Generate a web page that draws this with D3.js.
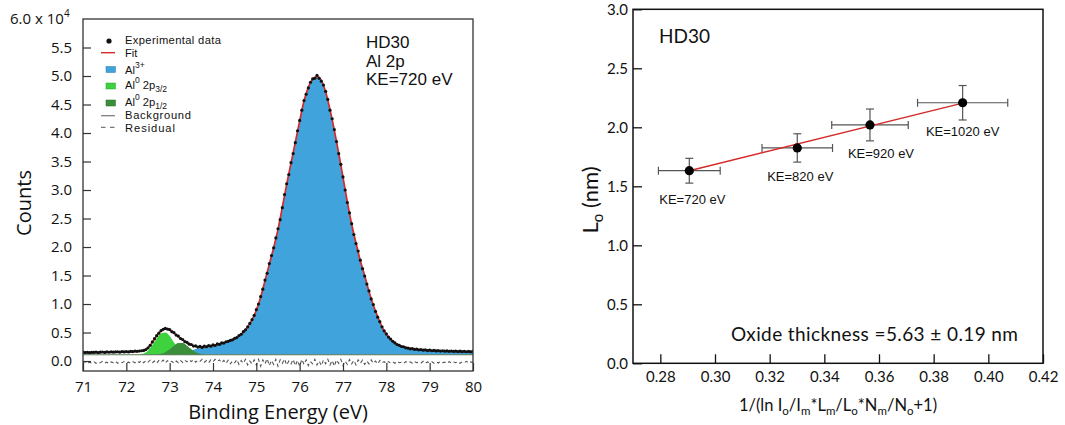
<!DOCTYPE html>
<html><head><meta charset="utf-8">
<script src="https://cdn.jsdelivr.net/npm/d3@7"></script>
<style>body{margin:0;background:#fff}svg{display:block}</style>
</head><body>
<svg id="c" width="1065" height="425"></svg>
<script>
// ---------------- LEFT PANEL DATA (counts in units of 1e4) ----------------
const dataStartE = 71.0, dataStepE = 0.05;
const expData = [
0.155,0.148,0.152,0.146,0.153,0.150,0.157,0.149,0.155,0.158,0.151,0.160,0.154,0.162,0.155,0.160,0.163,0.156,0.165,0.159,
0.166,0.160,0.169,0.165,0.174,0.170,0.176,0.180,0.186,0.200,0.232,0.275,0.335,0.392,0.445,0.488,0.532,0.556,0.572,0.560,
0.552,0.515,0.498,0.455,0.438,0.395,0.378,0.340,0.328,0.295,0.290,0.262,0.266,0.245,0.256,0.238,0.262,0.250,0.272,0.260,
0.285,0.272,0.300,0.292,0.318,0.315,0.338,0.345,0.362,0.372,0.398,0.412,0.448,0.470,0.515,0.548,0.598,0.660,0.725,0.800,
0.900,1.000,1.130,1.260,1.420,1.540,1.710,1.850,1.985,2.160,2.320,2.480,2.690,2.920,3.110,3.270,3.480,3.640,3.830,4.040,
4.220,4.400,4.570,4.680,4.790,4.890,4.950,4.960,5.010,4.960,4.910,4.840,4.730,4.590,4.400,4.250,4.060,3.850,3.640,3.450,
3.230,3.000,2.780,2.600,2.410,2.220,2.060,1.930,1.770,1.620,1.490,1.350,1.230,1.090,0.990,0.870,0.770,0.690,0.600,0.530,
0.475,0.420,0.385,0.345,0.318,0.290,0.275,0.255,0.250,0.232,0.228,0.214,0.218,0.204,0.208,0.196,0.200,0.190,0.196,0.184,
0.192,0.180,0.186,0.177,0.184,0.174,0.180,0.172,0.178,0.170,0.176,0.168,0.174,0.166,0.172,0.165,0.170,0.163,0.169,0.162,
0.168];

const fitStartE = 71.0, fitStepE = 0.1;
const fitCurve = [
0.150,0.150,0.151,0.152,0.153,0.154,0.155,0.156,0.158,0.160,
0.162,0.165,0.168,0.172,0.180,0.225,0.330,0.440,0.530,0.565,
0.545,0.490,0.430,0.370,0.320,0.280,0.255,0.245,0.248,0.258,
0.270,0.288,0.308,0.330,0.355,0.390,0.440,0.505,0.595,0.720,
0.890,1.120,1.410,1.700,1.990,2.310,2.700,3.100,3.470,3.840,
4.210,4.560,4.800,4.945,4.990,4.920,4.720,4.410,4.050,3.650,
3.220,2.790,2.400,2.070,1.760,1.500,1.220,0.980,0.780,0.600,
0.470,0.380,0.315,0.272,0.244,0.225,0.212,0.202,0.195,0.190,
0.186,0.182,0.179,0.176,0.174,0.172,0.170,0.168,0.167,0.166,
0.165];

const residualStartE = 71.0, residualStepE = 0.05;
const residual = [
-0.03,-0.01,-0.045,-0.02,-0.035,-0.01,-0.04,-0.02,-0.03,-0.005,-0.035,-0.02,-0.045,-0.015,-0.03,-0.005,-0.04,-0.015,-0.03,-0.01,
-0.035,-0.02,-0.04,-0.01,-0.03,0.0,-0.025,0.01,-0.03,0.005,-0.02,0.015,-0.03,0.0,-0.04,0.01,-0.02,0.015,-0.035,0.005,
-0.025,-0.005,-0.04,0.0,-0.03,0.01,-0.025,0.015,-0.015,0.02,-0.01,0.025,-0.02,0.015,-0.005,0.03,-0.02,0.01,-0.03,0.02,
-0.01,0.03,-0.005,0.02,-0.03,0.01,-0.04,0.015,-0.05,0.0,-0.03,0.025,-0.06,0.01,-0.04,0.03,-0.07,0.0,-0.05,0.02,
-0.07,0.03,-0.09,0.02,-0.05,0.04,-0.08,0.01,-0.06,0.03,-0.09,0.02,-0.04,0.035,-0.07,0.0,-0.05,0.03,-0.08,0.01,
-0.09,0.03,-0.06,0.02,-0.08,-0.01,-0.05,0.03,-0.07,0.0,-0.08,0.02,-0.05,0.03,-0.07,0.01,-0.09,0.02,-0.04,0.03,
-0.08,0.0,-0.06,0.025,-0.05,0.01,-0.07,0.02,-0.04,0.015,-0.06,0.0,-0.05,0.02,-0.04,0.0,-0.05,0.01,-0.03,-0.01,
-0.045,-0.01,-0.035,-0.015,-0.04,-0.005,-0.03,-0.02,-0.04,-0.01,-0.035,-0.015,-0.04,-0.01,-0.03,-0.02,-0.035,-0.005,-0.04,-0.015,
-0.03,-0.01,-0.04,-0.015,-0.035,-0.005,-0.03,-0.02,-0.04,-0.01,-0.035,-0.015,-0.03,-0.01,-0.04,-0.015,-0.03,-0.005,-0.035,-0.015,
-0.025];

const backgroundE = [71, 80];
const backgroundV = [0.11, 0.11];

const al3StartE = 72.4;
const al3Comp = [
0.000,0.003,0.005,0.007,0.008,0.010,
0.012,0.015,0.020,0.030,0.045,0.070,0.100,0.120,0.135,0.147,
0.160,0.178,0.198,0.220,0.245,0.280,0.330,0.395,0.485,0.610,
0.780,1.010,1.300,1.590,1.880,2.200,2.590,2.990,3.360,3.730,
4.100,4.450,4.690,4.835,4.880,4.810,4.610,4.300,3.940,3.540,
3.110,2.680,2.290,1.960,1.650,1.390,1.110,0.870,0.670,0.490,
0.360,0.270,0.205,0.162,0.134,0.115,0.102,0.092,0.085,0.080,
0.076,0.072,0.069,0.066,0.064,0.062,0.060,0.058,0.057,0.056,
0.055];
const p32StartE = 72.2;
const p32Comp = [0,0.006,0.022,0.070,0.170,0.285,0.375,0.390,0.330,0.215,0.110,0.045,0.014,0.003,0];
const p12StartE = 72.6;
const p12Comp = [0,0.005,0.017,0.045,0.097,0.160,0.205,0.205,0.160,0.097,0.045,0.017,0.005,0];

const xTicksL = [71,72,73,74,75,76,77,78,79,80];
const yTicksL = [0,0.5,1,1.5,2,2.5,3,3.5,4,4.5,5,5.5];
const annotL = ["HD30","Al 2p","KE=720 eV"];

// ---------------- RIGHT PANEL DATA ----------------
const invX = [0.2906, 0.3301, 0.3567, 0.3906];
const Lo   = [1.632, 1.825, 2.020, 2.208];
const xErr = [0.0113, 0.0129, 0.0140, 0.0165];
const yErr = [0.105, 0.120, 0.135, 0.146];
const keLabels = ["KE=720 eV","KE=820 eV","KE=920 eV","KE=1020 eV"];
const fitLineX = [0.2906, 0.3906];
const fitLineY = [1.632, 2.205];
const xTicksR = [0.28,0.30,0.32,0.34,0.36,0.38,0.40,0.42];
const yTicksR = [0,0.5,1,1.5,2,2.5,3];

// ---------------- STYLE ----------------
const C_BLUE = "#41a3db", C_LG = "#3fd23f", C_DG = "#3b8f3b", C_RED = "#d42a2a";
const FONT_AX = "'Open Sans', sans-serif";
const FONT_AR = "'Liberation Sans', Arial, sans-serif";
const FONT_R = "Lato, sans-serif";

const svg = d3.select("#c");

// ======== LEFT PANEL ========
const xL = d3.scaleLinear().domain([71,80]).range([83,473]);
const yL = d3.scaleLinear().domain([-0.175,6]).range([371,19]);
const gL = svg.append("g");
svg.append("defs").append("clipPath").attr("id","clipL")
  .append("rect").attr("x",xL(71)).attr("y",yL(6)).attr("width",xL(80)-xL(71)).attr("height",yL(-0.175)-yL(6));
const plotL = gL.append("g").attr("clip-path","url(#clipL)");
const bg0 = backgroundV[0];

function compArea(arr, startE){
  return d3.area().curve(d3.curveMonotoneX)
    .x((d,i)=>xL(startE + i*fitStepE))
    .y0(yL(bg0)).y1(d=>yL(bg0 + d))(arr);
}
plotL.append("path").attr("d",compArea(al3Comp,al3StartE)).attr("fill",C_BLUE);
plotL.append("path").attr("d",compArea(p32Comp,p32StartE)).attr("fill",C_LG);
plotL.append("path").attr("d",compArea(p12Comp,p12StartE)).attr("fill",C_DG);
plotL.append("path").attr("d",d3.line().x((d,i)=>xL(backgroundE[i])).y(d=>yL(d))(backgroundV))
  .attr("fill","none").attr("stroke","#5a7a5a").attr("stroke-width",1);
plotL.append("path").attr("d",d3.line().x((d,i)=>xL(residualStartE+i*residualStepE)).y(d=>yL(d))(residual))
  .attr("fill","none").attr("stroke","#555").attr("stroke-width",1.1).attr("stroke-dasharray","3.5,3");
plotL.append("path").attr("d",d3.line().curve(d3.curveMonotoneX).x((d,i)=>xL(fitStartE+i*fitStepE)).y(d=>yL(d))(fitCurve))
  .attr("fill","none").attr("stroke",C_RED).attr("stroke-width",1.7);
plotL.selectAll("circle.exp").data(expData).enter().append("circle").attr("class","exp")
  .attr("cx",(d,i)=>xL(dataStartE+i*dataStepE)).attr("cy",d=>yL(d)).attr("r",1.6).attr("fill","#111");

// axes
const axL = gL.append("g").attr("transform",`translate(${xL(71)},0)`)
  .call(d3.axisLeft(yL).tickValues(yTicksL).tickSize(-8).tickPadding(11).tickFormat(d3.format(".1f")));
const axB = gL.append("g").attr("transform",`translate(0,${yL(-0.175)})`)
  .call(d3.axisBottom(xL).tickValues(xTicksL).tickSize(-8).tickPadding(10).tickFormat(d3.format("d")));
[axL,axB].forEach(a=>{
  a.select(".domain").remove();
  a.selectAll("line").attr("stroke","#333").attr("stroke-width",1.2);
  a.selectAll("text").attr("font-family",FONT_AX).attr("font-size",15).attr("fill","#111");
});
gL.append("rect").attr("x",xL(71)).attr("y",yL(6)).attr("width",xL(80)-xL(71)).attr("height",yL(-0.175)-yL(6))
  .attr("fill","none").attr("stroke","#333").attr("stroke-width",1.3);
const topLab = gL.append("text").attr("x",10).attr("y",24).attr("font-family",FONT_AX).attr("font-size",15).attr("fill","#111");
topLab.append("tspan").text("6.0 x 10");
topLab.append("tspan").attr("dy",-7).attr("font-size",10).text("4");
gL.append("text").attr("transform","translate(31,203) rotate(-90)").attr("text-anchor","middle")
  .attr("font-family",FONT_AX).attr("font-size",20).attr("fill","#111").text("Counts");
gL.append("text").attr("x",(xL(71)+xL(80))/2).attr("y",419).attr("text-anchor","middle")
  .attr("font-family",FONT_AX).attr("font-size",20).attr("fill","#111").text("Binding Energy (eV)");
annotL.forEach((t,i)=>{
  gL.append("text").attr("x",366).attr("y",48+i*18.5).attr("font-family",FONT_AR).attr("font-size",17).attr("fill","#111").text(t);
});

// legend
const lg = gL.append("g").attr("font-family",FONT_AR).attr("font-size",11.2).attr("fill","#111");
lg.append("circle").attr("cx",109).attr("cy",41).attr("r",2.6).attr("fill","#111");
lg.append("text").attr("x",125).attr("y",43.8).attr("textLength",96).text("Experimental data");
lg.append("line").attr("x1",101).attr("x2",115).attr("y1",52.7).attr("y2",52.7).attr("stroke",C_RED).attr("stroke-width",1.4);
lg.append("text").attr("x",125).attr("y",56.5).text("Fit");
lg.append("rect").attr("x",106).attr("y",66.5).attr("width",9.5).attr("height",6).attr("fill",C_BLUE).attr("stroke","#2a7fb0").attr("stroke-width",0.5);
let t = lg.append("text").attr("x",125).attr("y",73.5); t.append("tspan").text("Al"); t.append("tspan").attr("dy",-6).attr("font-size",8.5).text("3+");
lg.append("rect").attr("x",106).attr("y",83).attr("width",9.5).attr("height",6).attr("fill",C_LG).attr("stroke","#2aa02a").attr("stroke-width",0.5);
t = lg.append("text").attr("x",125).attr("y",88.5); t.append("tspan").text("Al"); t.append("tspan").attr("dy",-6).attr("font-size",8.5).text("0");
t.append("tspan").attr("dy",6).text(" 2p"); t.append("tspan").attr("dy",3).attr("font-size",8.5).text("3/2");
lg.append("rect").attr("x",106).attr("y",100).attr("width",9.5).attr("height",6).attr("fill",C_DG).attr("stroke","#2a6a2a").attr("stroke-width",0.5);
t = lg.append("text").attr("x",125).attr("y",105.5); t.append("tspan").text("Al"); t.append("tspan").attr("dy",-6).attr("font-size",8.5).text("0");
t.append("tspan").attr("dy",6).text(" 2p"); t.append("tspan").attr("dy",3).attr("font-size",8.5).text("1/2");
lg.append("line").attr("x1",101).attr("x2",115).attr("y1",115.7).attr("y2",115.7).attr("stroke","#777").attr("stroke-width",1.2);
lg.append("text").attr("x",125).attr("y",118.8).attr("textLength",66).text("Background");
lg.append("line").attr("x1",101).attr("x2",115).attr("y1",127.3).attr("y2",127.3).attr("stroke","#777").attr("stroke-width",1.2).attr("stroke-dasharray","4.5,4.5");
lg.append("text").attr("x",125).attr("y",131.5).attr("textLength",50).text("Residual");

// ======== RIGHT PANEL ========
const xR = d3.scaleLinear().domain([0.27,0.42]).range([633,1043]);
const yR = d3.scaleLinear().domain([0,3]).range([363.3,9.3]);
const gR = svg.append("g");
const eb = gR.append("g").attr("stroke","#555").attr("stroke-width",1.2);
invX.forEach((xv,i)=>{
  const cx = xR(xv), cy = yR(Lo[i]);
  const xl = xR(xv-xErr[i]), xr = xR(xv+xErr[i]);
  const yt = yR(Lo[i]+yErr[i]), yb = yR(Lo[i]-yErr[i]);
  eb.append("line").attr("x1",xl).attr("x2",xr).attr("y1",cy).attr("y2",cy);
  eb.append("line").attr("x1",xl).attr("x2",xl).attr("y1",cy-4).attr("y2",cy+4);
  eb.append("line").attr("x1",xr).attr("x2",xr).attr("y1",cy-4).attr("y2",cy+4);
  eb.append("line").attr("x1",cx).attr("x2",cx).attr("y1",yt).attr("y2",yb);
  eb.append("line").attr("x1",cx-4).attr("x2",cx+4).attr("y1",yt).attr("y2",yt);
  eb.append("line").attr("x1",cx-4).attr("x2",cx+4).attr("y1",yb).attr("y2",yb);
});
gR.append("path").attr("d",d3.line().x((d,i)=>xR(fitLineX[i])).y(d=>yR(d))(fitLineY))
  .attr("stroke",C_RED).attr("stroke-width",1.4).attr("fill","none");
gR.selectAll("circle.pt").data(Lo).enter().append("circle").attr("class","pt")
  .attr("cx",(d,i)=>xR(invX[i])).attr("cy",d=>yR(d)).attr("r",4.6).attr("fill","#000");
const labelDx = [3,3,11,0];
keLabels.forEach((s,i)=>{
  gR.append("text").attr("x",xR(invX[i])+labelDx[i]).attr("y",yR(Lo[i])+33).attr("text-anchor","middle")
    .attr("font-family",FONT_AR).attr("font-size",13).attr("fill","#111").text(s);
});
const axRL = gR.append("g").attr("transform",`translate(${xR(0.27)},0)`)
  .call(d3.axisLeft(yR).tickValues(yTicksR).tickSize(-9).tickPadding(5).tickFormat(d3.format(".1f")));
const axRB = gR.append("g").attr("transform",`translate(0,${yR(0)})`)
  .call(d3.axisBottom(xR).tickValues(xTicksR).tickSize(-9).tickPadding(8).tickFormat(d3.format(".2f")));
[axRL,axRB].forEach(a=>{
  a.select(".domain").remove();
  a.selectAll("line").attr("stroke","#111").attr("stroke-width",1.3);
  a.selectAll("text").attr("font-family",FONT_R).attr("font-size",15).attr("fill","#111");
});
gR.append("rect").attr("x",xR(0.27)).attr("y",yR(3)).attr("width",xR(0.42)-xR(0.27)).attr("height",yR(0)-yR(3))
  .attr("fill","none").attr("stroke","#111").attr("stroke-width",1.5);
gR.append("text").attr("x",659).attr("y",42.7).attr("font-family",FONT_R).attr("font-size",19).attr("fill","#111").text("HD30");
gR.append("text").attr("x",731).attr("y",340.7).attr("font-family",FONT_R).attr("font-size",19).attr("fill","#111")
  .attr("textLength",287).text("Oxide thickness =5.63 \u00b1 0.19 nm");
// x title with subscripts
const xt = gR.append("text").attr("x",838).attr("y",411).attr("text-anchor","middle").attr("font-family",FONT_R).attr("font-size",16.5).attr("fill","#111");
[["1/(ln I",0],["o",1],["/I",0],["m",1],["*L",0],["m",1],["/L",0],["o",1],["*N",0],["m",1],["/N",0],["o",1],["+1)",0]]
  .reduce((prev,[s,sub])=>{
    const sp = xt.append("tspan").text(s);
    const dy = (sub?4:0) - (prev?4:0);
    if (dy) sp.attr("dy",dy);
    if (sub) sp.attr("font-size",11.5);
    return sub;
  },0);
const yt = gR.append("text").attr("transform","translate(598,200) rotate(-90)").attr("text-anchor","middle")
  .attr("font-family",FONT_R).attr("font-size",22).attr("fill","#111");
yt.append("tspan").text("L");
yt.append("tspan").attr("dy",5).attr("font-size",15).text("o");
yt.append("tspan").attr("dy",-5).text(" (nm)");
</script>
</body></html>
